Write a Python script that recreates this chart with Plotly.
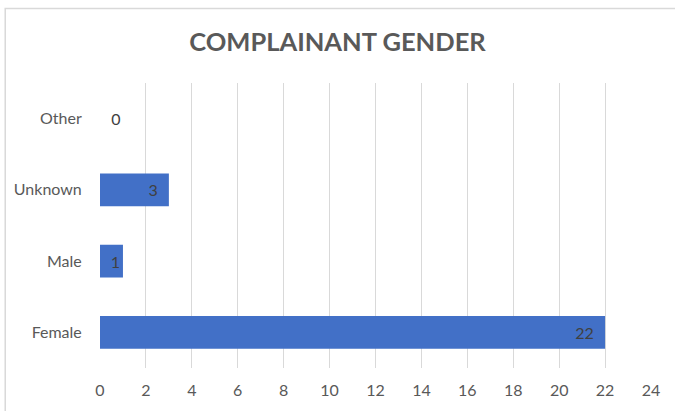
import plotly.graph_objects as go

generos = ["Female", "Male", "Unknown", "Other"]
quejas = [22, 1, 3, 0]

# etiquetas: dentro de la barra con un poco de aire, fuera si el valor es 0
nb = "\u00a0"
etiquetas = [(nb * 2 + str(v)) if v == 0 else (str(v) + nb * 2 if v > 1 else str(v)) for v in quejas]
posiciones = ["outside" if v == 0 else "inside" for v in quejas]

fig = go.Figure()
fig.add_trace(go.Bar(
    y=generos, x=quejas, orientation="h",
    marker=dict(color="#4270C7", line=dict(width=0)),
    width=0.46,
    text=etiquetas,
    textposition=posiciones,
    insidetextanchor="end",
    constraintext="none",
    textfont=dict(family="Lato", size=16, color="#404040"),
    cliponaxis=False,
))

fig.update_layout(
    width=675, height=411,
    margin=dict(l=100, r=24, t=83, b=41),
    paper_bgcolor="white", plot_bgcolor="white",
    showlegend=False,
    title=dict(text="<b>COMPLAINANT GENDER</b>", x=0.5, xanchor="center",
               y=0.898, yanchor="middle",
               font=dict(family="Lato", size=25.5, color="#595959")),
    font=dict(family="Lato", size=16, color="#595959"),
)
fig.update_xaxes(range=[0, 24], dtick=2, showgrid=True, gridcolor="#D9D9D9",
                 gridwidth=1, zeroline=False, showline=False,
                 ticks="outside", ticklen=8, tickcolor="rgba(0,0,0,0)",
                 fixedrange=True)
fig.update_yaxes(showgrid=False, showline=False, zeroline=False,
                 ticks="outside", ticklen=14, tickcolor="rgba(0,0,0,0)")

# marco del grafico
fig.add_shape(type="rect", xref="paper", yref="paper",
              x0=-0.172, x1=1.2, y0=-0.3, y1=1.261,
              line=dict(color="#D9D9D9", width=1.5), layer="below")

fig.write_html("out.html", config={"displayModeBar": False},
               post_script="document.body.style.margin='0';document.body.style.overflow='hidden';")
